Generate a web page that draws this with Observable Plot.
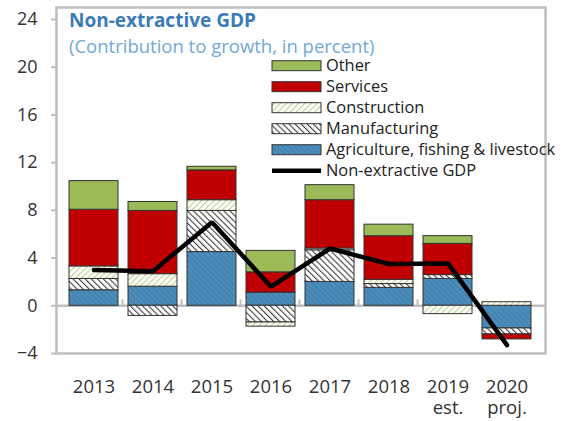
<!DOCTYPE html>
<html><head><meta charset="utf-8">
<script src="https://cdn.jsdelivr.net/npm/d3@7"></script>
<script src="https://cdn.jsdelivr.net/npm/@observablehq/plot@0.6"></script>
<style>
body{margin:0;background:#fff;}
#wrap{position:relative;width:567px;height:421px;}
</style></head><body><div id="wrap"></div>
<script>
// ---- data ----
const years = ["2013","2014","2015","2016","2017","2018","2019","2020"];
const xLabels = ["2013","2014","2015","2016","2017","2018","2019\nest.","2020\nproj."];
const seriesNames = ["Agriculture, fishing & livestock","Manufacturing","Construction","Services","Other"];
const agriculture = [1.3, 1.6, 4.5, 1.1, 2.0, 1.5, 2.25, -1.9];
const manufacturing = [0.95, -0.85, 3.45, -1.4, 2.65, 0.32, 0.32, -0.5];
const construction = [1.05, 1.05, 0.9, -0.35, 0.15, 0.36, -0.7, 0.3];
const services = [4.75, 5.3, 2.5, 1.7, 4.05, 3.65, 2.62, -0.42];
const other = [2.4, 0.75, 0.3, 1.8, 1.26, 0.97, 0.65, 0];
const nonExtractiveGDP = [3.0, 2.9, 7.0, 1.6, 4.8, 3.5, 3.55, -3.3];
const yTicks = [-4, 0, 4, 8, 12, 16, 20, 24];
const legendOrder = ["Other","Services","Construction","Manufacturing","Agriculture, fishing & livestock"];

const fills = ["url(#pAg)","url(#pMfg)","url(#pCon)","#c00000","#9bbb59"];
const seriesValues = [agriculture, manufacturing, construction, services, other];
const table = [];
seriesNames.forEach((s, si) => years.forEach((y, i) => table.push({year: y, series: s, value: seriesValues[si][i]})));
const lineData = years.map((y, i) => ({year: y, value: nonExtractiveGDP[i]}));

const gray = "#bfbfbf";
const font = "Open Sans";

const chart = Plot.plot({
  width: 567, height: 421,
  marginLeft: 56, marginRight: 22, marginTop: 7, marginBottom: 68,
  style: {fontFamily: font, fontSize: "17px", color: "#333", background: "white"},
  x: {domain: years, padding: 0.165, label: null},
  y: {domain: [-4, 25], label: null},
  color: {type: "ordinal", domain: seriesNames, range: fills},
  marks: [
    Plot.ruleY([0], {stroke: gray, strokeWidth: 2.5}),
    Plot.ruleX(years.slice(1), {x: d => d, y1: 0, y2: 0.5, dx: -30.5, stroke: gray, strokeWidth: 2}),
    Plot.barY(table, Plot.stackY({x: "year", y: "value", fill: "series", order: seriesNames, stroke: "#333", strokeWidth: 1})),
    Plot.line(lineData, {x: "year", y: "value", stroke: "black", strokeWidth: 4.5, strokeLinejoin: "miter"}),
    Plot.frame({stroke: gray, strokeWidth: 2.5}),
    Plot.axisY({ticks: yTicks, tickSize: 5, tickPadding: 14, stroke: gray, strokeWidth: 2, fill: "#333", fontSize: 18, label: null}),
    Plot.axisX({tickSize: 0, tickPadding: 24, tickFormat: (d, i) => xLabels[years.indexOf(d)], fill: "#333", fontSize: 18.5, lineHeight: 1.15, label: null})
  ]
});

const svg = d3.select(chart);
const defs = svg.insert("defs", ":first-child");
function hatch(id, bg, line, w, size, rot, opacity) {
  const p = defs.append("pattern").attr("id", id).attr("patternUnits", "userSpaceOnUse")
    .attr("width", size).attr("height", size).attr("patternTransform", `rotate(${rot})`);
  p.append("rect").attr("width", size).attr("height", size).attr("fill", bg);
  p.append("line").attr("x1", 0).attr("y1", 0).attr("x2", 0).attr("y2", size)
    .attr("stroke", line).attr("stroke-width", w).attr("stroke-opacity", opacity);
}
hatch("pAg", "#4b8cba", "#3a74a0", 2, 4, -45, 0.6);
hatch("pMfg", "#ffffff", "#3f3f3f", 2.2, 4.3, -45, 1);
hatch("pCon", "#ffffff", "#b9d38a", 2.2, 4.3, 45, 1);

// title
const tg = svg.append("g").attr("font-family", font).attr("text-anchor", "start");
tg.append("text").attr("x", 69).attr("y", 27).attr("font-size", 19)
  .attr("font-weight", "bold").attr("fill", "#3b7bb6").text("Non-extractive GDP");
tg.append("text").attr("x", 69).attr("y", 53).attr("font-size", 18.5)
  .attr("fill", "#72a9d6").text("(Contribution to growth, in percent)");

// legend
const fillOf = s => fills[seriesNames.indexOf(s)];
const lg = svg.append("g").attr("font-family", font).attr("font-size", 16.4).attr("fill", "#222").attr("text-anchor", "start");
legendOrder.forEach((s, i) => {
  const cy = 65.7 + i * 21;
  lg.append("rect").attr("x", 272).attr("y", cy - 5).attr("width", 49).attr("height", 10)
    .attr("fill", fillOf(s)).attr("stroke", "#333").attr("stroke-width", 1);
  lg.append("text").attr("x", 326).attr("y", cy).attr("dy", "0.35em").text(s);
});
{
  const cy = 65.7 + 5 * 21;
  lg.append("line").attr("x1", 272).attr("x2", 321).attr("y1", cy).attr("y2", cy)
    .attr("stroke", "black").attr("stroke-width", 4.5);
  lg.append("text").attr("x", 326).attr("y", cy).attr("dy", "0.35em").text("Non-extractive GDP");
}

document.getElementById("wrap").appendChild(chart);
</script></body></html>
